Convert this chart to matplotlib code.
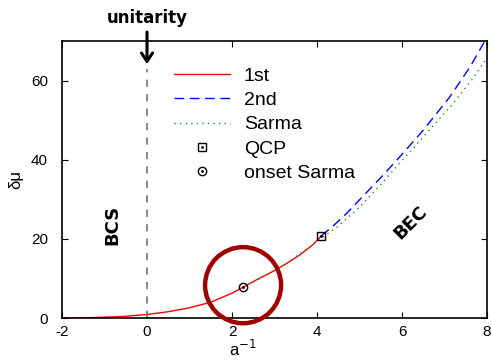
import numpy as np
import matplotlib.pyplot as plt
from matplotlib.patches import Ellipse

# 1st-order line (BCS side up to the QCP)
x_first = [-2.0, -1.5, -1.0, -0.5, 0.0, 0.5, 1.0, 1.5, 2.0, 2.26, 2.6, 3.0, 3.3, 3.6, 3.9, 4.1]
y_first = [0.0, 0.05, 0.2, 0.45, 0.9, 1.6, 2.6, 4.0, 6.3, 7.8, 9.8, 12.0, 13.9, 16.0, 18.5, 20.8]

# 2nd-order line (from the QCP on)
x_second = [4.1, 4.35, 4.7, 5.0, 5.5, 5.95, 6.5, 7.13, 7.6, 8.0]
y_second = [20.8, 23.0, 26.5, 29.9, 35.5, 40.8, 47.5, 56.0, 63.5, 71.0]

# Sarma line (from the onset on)
x_sarma = [2.26, 2.8, 3.3, 3.8, 4.1, 4.47, 5.0, 5.5, 5.95, 6.5, 7.13, 7.6, 8.0]
y_sarma = [7.8, 10.8, 14.0, 17.8, 20.2, 23.0, 28.0, 33.8, 39.2, 45.8, 53.4, 59.6, 65.8]

qcp_x, qcp_y = [4.1], [20.8]
onset_x, onset_y = [2.26], [7.8]

xticks = [-2, 0, 2, 4, 6, 8]
yticks = [0, 20, 40, 60]

plt.rcParams['font.family'] = ['Liberation Sans', 'DejaVu Sans']
plt.rcParams['axes.unicode_minus'] = False

fig = plt.figure(figsize=(4.92, 3.61), dpi=100)
ax = fig.add_axes([0.126, 0.119, 0.864, 0.767])

h1, = ax.plot(x_first, y_first, color='red', lw=1.0)
h2, = ax.plot(x_second, y_second, color='blue', lw=1.0, ls=(0, (7, 4)))
h3, = ax.plot(x_sarma, y_sarma, color='#2e8b2e', lw=1.0, ls=(0, (1, 3)))
h4, = ax.plot(qcp_x, qcp_y, ls='none', marker='s', ms=6, mfc='none', mec='black', mew=1.0)
h5, = ax.plot(onset_x, onset_y, ls='none', marker='o', ms=6, mfc='none', mec='black', mew=1.0)
hd, = ax.plot(qcp_x + onset_x, qcp_y + onset_y, ls='none', marker='.', ms=2, color='black')

# unitarity line
ax.axvline(0, ymax=0.9, color='gray', ls=(0, (4, 4)), lw=1.3)
ax.annotate('', xy=(0, 63.5), xytext=(0, 73), xycoords='data',
            arrowprops=dict(arrowstyle='->, head_width=0.4, head_length=0.6', lw=2.2, color='black'),
            annotation_clip=False)
ax.text(0, 74.6, 'unitarity', ha='center', va='baseline', fontsize=12, fontweight='bold',
        family='DejaVu Sans')

ax.text(-0.82, 23.5, 'BCS', rotation=90, ha='center', va='center', fontsize=13,
        fontweight='bold', family='DejaVu Sans')
ax.text(6.2, 24.2, 'BEC', rotation=45, ha='center', va='center', fontsize=13,
        fontweight='bold', family='DejaVu Sans')

# highlight circle around the Sarma onset
circ = Ellipse((2.26, 8.3), width=76 / 42.5, height=76 / 3.95, fill=False,
               edgecolor='#a00000', lw=3.2, clip_on=False, zorder=5)
ax.add_patch(circ)

ax.set_xlim(-2, 8)
ax.set_ylim(0, 70)
ax.set_xticks(xticks)
ax.set_yticks(yticks)
ax.tick_params(direction='in', top=True, right=True, labelsize=11, length=4)
ax.tick_params(axis='x', pad=5)
ax.tick_params(axis='y', pad=10)
for s in ax.spines.values():
    s.set_linewidth(1.2)

ax.set_xlabel('a$^{-1}$', fontsize=12)
ax.xaxis.set_label_coords(0.425, -0.075)
ax.set_ylabel('δμ', fontsize=12, labelpad=6)

ax.legend([h1, h2, h3, (h4, hd), (h5, hd)], ['1st', '2nd', 'Sarma', 'QCP', 'onset Sarma'],
          loc='upper left', bbox_to_anchor=(0.222, 0.97), frameon=False, fontsize=14,
          handlelength=2.9, handletextpad=0.7, labelspacing=0.35)

fig.savefig('out.png', dpi=100)
